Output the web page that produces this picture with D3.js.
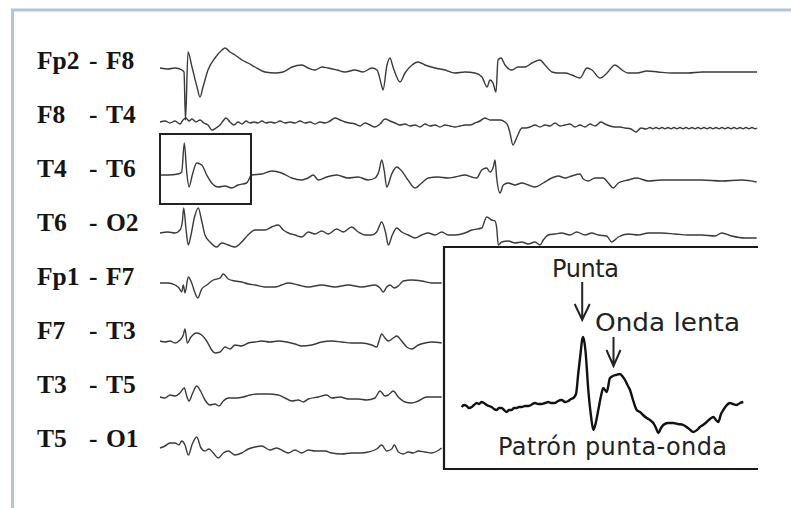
<!DOCTYPE html>
<html>
<head>
<meta charset="utf-8">
<script src="https://cdn.jsdelivr.net/npm/d3@7"></script>
<style>
  html, body { margin: 0; padding: 0; background: #fff; }
  svg { display: block; }
</style>
</head>
<body>
<svg id="chart" width="791" height="508"></svg>
<script>
// Bipolar montage: first and second electrode of each derivation
const leadA = ["Fp2", "F8", "T4", "T6", "Fp1", "F7", "T3", "T5"];
const leadB = ["F8", "T4", "T6", "O2", "F7", "T3", "T5", "O1"];

// Each trace: [sample, amplitude] pairs (samples ~60 Hz, amplitude in display units)
const fp2F8 = [[0,2],[8,1],[15,2],[22,0],[24,-2],[25.5,-50],[28,18],[32,3],[37,-17],[40,-27],[43,-17],[48,0],[55,12],[62,20],[65,22],[70,18],[75,15],[82,10],[88,7],[95,3],[105,-2],[115,-3],[123,-2],[132,3],[142,5],[148,2],[155,0],[162,3],[168,2],[177,0],[185,-2],[195,0],[203,-2],[212,2],[217,0],[222,-17],[223,-20],[227,5],[230,12],[233,3],[240,-12],[245,-3],[252,5],[258,8],[265,5],[275,2],[285,0],[295,-3],[305,-2],[315,-3],[322,-7],[327,-17],[330,-10],[333,-13],[336,-22],[338,10],[341,12],[345,5],[352,0],[358,3],[365,3],[372,7],[380,10],[385,5],[392,-2],[398,-3],[405,-3],[412,-5],[420,-8],[427,2],[432,0],[440,-8],[447,-3],[455,5],[462,0],[468,-3],[477,-3],[487,-1],[498,-2],[512,-3],[528,-3],[542,-2],[562,-2],[582,-2],[597,-2]];

const f8T4 = [[0,2],[5,3],[10,1],[15,3],[20,0],[23,4],[26,6],[29,3],[32,5],[36,2],[40,4],[44,1],[48,-1],[52,-6],[56,-4],[60,-1],[63,3],[66,6],[70,2],[74,-1],[78,2],[82,0],[86,3],[90,1],[94,2],[98,1],[102,3],[106,1],[110,2],[115,1],[120,3],[125,1],[130,2],[135,1],[140,3],[145,1],[150,2],[155,0],[160,2],[165,1],[170,3],[175,6],[180,4],[185,2],[190,1],[195,0],[200,-2],[205,1],[210,-1],[215,-3],[220,0],[225,5],[230,3],[235,1],[240,-1],[245,0],[250,-2],[255,-1],[260,-3],[265,0],[270,-2],[275,-1],[280,-3],[285,-1],[290,-2],[295,-3],[300,-2],[305,-1],[310,-1],[315,1],[320,3],[325,6],[330,4],[335,4],[340,4],[345,2],[348,-2],[350,-9],[353,-21],[357,-13],[362,-4],[366,-4],[370,-3],[375,-1],[380,-3],[385,-1],[390,-2],[395,1],[400,-2],[405,-1],[410,0],[415,-3],[420,-1],[425,-3],[430,0],[435,-2],[441,2],[445,0],[450,-2],[455,-3],[460,-3],[465,-4],[471,-5],[476,-8],[481,-4],[486,-5],[490,-3.5],[493,-4.8],[496,-3.5],[499,-4.8],[502,-3.5],[505,-4.8],[508,-3.5],[511,-4.8],[514,-3.5],[517,-4.8],[520,-3.5],[523,-4.8],[526,-3.5],[529,-4.8],[532,-3.5],[535,-4.8],[538,-3.5],[541,-4.8],[544,-3.5],[547,-4.8],[550,-3.5],[553,-4.8],[556,-3.5],[559,-4.8],[562,-3.5],[565,-4.8],[568,-3.5],[571,-4.8],[574,-3.5],[577,-4.8],[580,-3.5],[583,-4.8],[586,-3.5],[589,-4.8],[592,-3.5],[595,-4.8],[597,-4]];

const t4T6 = [[0,3],[8,3],[18,4],[21.7,6],[24.3,35],[26.7,6],[29,-9],[32.3,3],[36.7,15],[41.7,13],[46.7,3],[51.7,-5],[58.3,-9],[65,-8],[71.7,-10],[78,-7],[86.7,-5],[91.7,3],[101.7,4],[111.7,7],[121.7,5],[131.7,0],[141.7,-2],[148,0],[153.3,3],[158.3,-2],[166.7,1],[176.7,3],[188,0],[198,1],[208.3,-2],[215,0],[219,7],[221.7,18],[224.3,7],[226.7,-9],[231.7,4],[236.7,11],[241.7,7],[248,-2],[255,-10],[261.7,-5],[268.3,0],[278,1],[288,0],[295,1],[305,3],[311.7,1],[316.7,0],[321.7,8],[326.7,10],[330,6],[333.3,11],[335,18],[336.7,0],[340,-15],[343.3,-7],[348.3,-5],[355,-7],[361.7,-5],[368.3,-7],[375,-9],[383.3,-5],[391.7,0],[398.3,2],[405,0],[411.7,2],[420,4],[423.3,-1],[428.3,-3],[435,0],[443.3,0],[448.3,-5],[453.3,-10],[458.3,-5],[468.3,-2],[476.7,0],[488.3,-3],[501.7,-2],[521.7,-2],[541.7,-2],[561.7,-3],[581.7,-2],[596.7,-4]];

const t6O2 = [[0,-1],[8,0],[15,-1],[20,2],[22.3,10],[23.7,24],[26,3],[28.3,-13],[31,-3],[34.3,14],[38.3,24],[41.7,11],[45,-3],[50,-10],[56.7,-15],[61.7,-11],[68.3,-13],[75,-15],[81.7,-10],[88,-3],[95,2],[105,2],[111.7,5],[118.3,7],[123.3,2],[128.3,-1],[135,-3],[141.7,-5],[148.3,0],[155,-2],[161.7,1],[168.3,-2],[176.7,3],[183.3,0],[191.7,5],[198.3,0],[205,-3],[211.7,-3],[216.7,0],[221.7,10],[225.7,-1],[228.3,-13],[232.3,-3],[236.7,4],[241.7,0],[248.3,-3],[255,-6],[261.7,-3],[268.3,-1],[275,-3],[281.7,0],[288.3,-3],[295,-3],[305,-1],[311.7,2],[321.7,4],[326.7,15],[331.7,12],[335,11],[336.7,4],[338.3,-13],[341.7,-10],[348.3,-9],[355,-11],[361.7,-10],[368.3,-12],[375,-10],[380,-13],[383.3,-8],[388.3,-3],[395,-2],[401.7,-1],[410,-3],[416.7,0],[425,-3],[431.7,-1],[438.3,-3],[446.7,-4],[451.7,-10],[458.3,-5],[468.3,-2],[478.3,-3],[488.3,-1],[501.7,-1],[515,-2],[528.3,-3],[541.7,-3],[555,-4],[561.7,-1],[571.7,-4],[585,-6],[596.7,-6]];

const fp1F7 = [[0,3],[8,3],[15,1],[19,-2],[21.7,-6],[23.3,1],[25,-7],[28.3,9],[31.7,3],[35,-7],[37.7,-12],[41.7,-3],[46.7,1],[53.3,6],[60,8],[63.3,12],[68.3,7],[75,5],[81.7,4],[88.3,2],[95,1],[105,-1],[115,-1],[121.7,1],[128.3,3],[138.3,1],[148.3,-1],[161.7,1],[175,-1],[188.3,1],[201.7,-1],[215,1],[220,-2],[223.3,-6],[226.7,-1],[230,1],[234.3,-2],[238.3,0],[243.3,5],[251.7,6],[261.7,5],[271.7,3],[281.7,3]];

const f7T3 = [[0,-1],[5,-2],[10,-1],[15,-3],[20,0],[23.3,5],[25,11],[27.3,-3],[31,3],[36.7,7],[41.7,5],[46.7,-1],[51.7,-10],[55,-13],[60,-12],[65,-7],[70,-9],[75,-5],[81.7,-6],[88.3,-3],[95,-2],[101.7,-1],[110,-2],[118.3,-1],[126.7,-2],[135,-4],[141.7,-6],[151.7,-5],[161.7,-2],[171.7,-1],[181.7,-2],[191.7,-3],[201.7,-3],[211.7,-5],[216.7,-7],[219,-1],[221.7,6],[225,2],[228.3,-1],[233.3,2],[236.7,4],[241.7,-1],[246.7,-7],[251.7,-9],[258.3,-5],[265,-3],[271.7,-2],[281.7,-3]];

const t3T5 = [[0,-3],[5,-4],[10,-1],[15,-2],[20,1],[24.3,6],[26.7,-2],[29,-7],[32.3,0],[36.7,8],[41,2],[45,-6],[50,-11],[55,-10],[59,-12],[63.3,-7],[68.3,-4],[76.7,-4],[83.3,-3],[90,-1],[98.3,0],[108.3,0],[118.3,-1],[125,-4],[131.7,-7],[138.3,-6],[143.3,-8],[148.3,-5],[158.3,-3],[166.7,-1],[171.7,-4],[180,-3],[188.3,-5],[198.3,-5],[206.7,-6],[215,-4],[220,3],[225,-2],[228.3,-1],[233.3,3],[238.3,-3],[245,-8],[251.7,-9],[258.3,-7],[266.7,-3],[273.3,-3],[281.7,-3]];

const t5O1 = [[0,0],[5,2],[10,5],[15,5],[19,3],[21.7,7],[25,3],[28.3,-7],[32.3,4],[36.7,11],[41,0],[45,-3],[49,-1],[53.3,-5],[58.3,-10],[63.3,-5],[68.3,-3],[75,-7],[81.7,-5],[88.3,-1],[95,1],[101.7,2],[110,-2],[116.7,0],[123.3,-3],[128.3,-5],[135,-2],[141.7,-5],[148.3,-2],[155,-3],[165,-3],[171.7,-5],[181.7,-6],[191.7,-5],[200,-5],[208.3,-4],[216.7,-1],[221.7,3],[226.7,-3],[231.7,-1],[234.3,3],[238.3,-4],[243.3,-6],[248.3,-4],[253.3,-5],[258.3,-3],[265,-4],[271.7,-5],[281.7,0]];

const traces = [fp2F8, f8T4, t4T6, t6O2, fp1F7, f7T3, t3T5, t5O1];

// Magnified spike-and-wave complex shown in the inset
const insetTrace = [[1.7,-1],[4,1],[6.7,0],[9,-2],[11.7,-1],[14,1],[16.7,3],[19,2],[21.7,4],[24,3],[26.7,1],[29,0],[31.7,-1],[34,-3],[36.7,-4],[39,-2],[41.7,-2],[44,-4],[46.7,-6],[49,-4],[51.7,-4],[54,-2],[56.7,-2],[59,-1],[61.7,-1],[65,0],[68.3,0],[71,1],[75,3],[78,2],[81.7,2],[85,3],[88.3,4],[91,3],[95,3],[98,5],[101.7,6],[105,4],[108.3,5],[111,7],[113.3,8],[116,12],[118.3,33],[120.5,52],[122.7,69],[124,66],[125.5,55],[128.3,16],[131,-10],[133.3,-24],[135.5,-18],[138.3,-4],[141,10],[143.3,18],[146.7,14],[150,28],[153,30],[156,31],[160,32],[163,29],[165,26],[168,20],[170,16],[173,6],[176.7,-4],[180,-6],[183,-9],[186.7,-12],[190,-14],[193.3,-17],[196,-22],[198.3,-27],[201,-22],[203.3,-19],[208,-17],[213.3,-17],[218,-18],[223.3,-19],[228,-22],[233.3,-26],[237,-24],[240,-21],[243,-19],[246.7,-16],[250,-13],[253.3,-11],[256,-14],[258.3,-16],[261,-8],[263.3,-4],[266,0],[270,3],[273,2],[276.7,1],[280,3],[283.3,4]];

// Inset annotations
const spikeLabel = "Punta";
const slowWaveLabel = "Onda lenta";
const patternLabel = "Patrón punta-onda";
const spikeSample = 122.7;
const slowWaveSample = 153.5;

const svg = d3.select("#chart");
const channels = leadA.map((a, i) => a + " - " + leadB[i]);

// Scales
const x = d3.scaleLinear().domain([0, 597]).range([160, 757]);
const row = d3.scalePoint().domain(channels).range([70, 448]);
const amp = d3.scaleLinear().domain([-60, 60]).range([60, -60]);

// Outer frame (top and left edges)
svg.append("line").attr("x1", 11).attr("x2", 791).attr("y1", 10).attr("y2", 10)
  .attr("stroke", "#b4c5da").attr("stroke-width", 3);
svg.append("line").attr("x1", 12.5).attr("x2", 12.5).attr("y1", 9).attr("y2", 508)
  .attr("stroke", "#b4c5da").attr("stroke-width", 3);

// Channel labels, columns aligned on the hyphen
const labels = svg.append("g")
  .attr("font-family", "'Liberation Serif', 'Times New Roman', serif")
  .attr("font-weight", "bold").attr("font-size", 25.5).attr("fill", "#151515");
channels.forEach((c, i) => {
  const t = labels.append("text").attr("y", row(c) - 1.5);
  t.append("tspan").attr("x", 37).text(leadA[i]);
  t.append("tspan").attr("x", 89).text("-");
  t.append("tspan").attr("x", 106).text(leadB[i]);
});

// EEG traces
const line = d3.line().curve(d3.curveMonotoneX);
channels.forEach((c, i) => {
  const y0 = row(c);
  svg.append("path")
    .attr("d", line(traces[i].map(d => [x(d[0]), y0 + amp(d[1])])))
    .attr("fill", "none").attr("stroke", "#3a3a3a").attr("stroke-width", 1.4)
    .attr("stroke-linejoin", "round");
});

// Highlight box around the first spike-wave complex on T4 - T6
const boxRow = row(channels[2]);
svg.append("rect")
  .attr("x", x(0)).attr("y", boxRow + amp(44))
  .attr("width", x(91) - x(0)).attr("height", amp(-26) - amp(44))
  .attr("fill", "none").attr("stroke", "#222").attr("stroke-width", 2);

// Inset panel
const xIn = d3.scaleLinear().domain([0, 300]).range([460, 760]);
const inBase = 406;
svg.append("rect").attr("x", 444).attr("y", 247).attr("width", 314).attr("height", 222)
  .attr("fill", "#fff");
svg.append("path")
  .attr("d", "M758,247 H444 V469 H758")
  .attr("fill", "none").attr("stroke", "#1a1a1a").attr("stroke-width", 2.2);

svg.append("path")
  .attr("d", line(insetTrace.map(d => [xIn(d[0]), inBase + amp(d[1])])))
  .attr("fill", "none").attr("stroke", "#111").attr("stroke-width", 2.4)
  .attr("stroke-linejoin", "round");

const inText = svg.append("g")
  .attr("font-family", "'DejaVu Sans', sans-serif").attr("font-size", 24).attr("fill", "#222");
inText.append("text").attr("x", 552).attr("y", 276.5)
  .attr("textLength", 67).attr("lengthAdjust", "spacing").text(spikeLabel);
inText.append("text").attr("x", 595).attr("y", 331)
  .attr("textLength", 145).attr("lengthAdjust", "spacingAndGlyphs").text(slowWaveLabel);
inText.append("text").attr("x", 498).attr("y", 455)
  .attr("textLength", 229).attr("lengthAdjust", "spacing").text(patternLabel);

// Down arrows pointing at the spike and the slow wave
function arrow(cx, yTop, yTip, half) {
  svg.append("path")
    .attr("d", `M${cx},${yTop} V${yTip} M${cx - half},${yTip - 16} L${cx},${yTip} L${cx + half},${yTip - 16}`)
    .attr("fill", "none").attr("stroke", "#222").attr("stroke-width", 2)
    .attr("stroke-linejoin", "miter");
}
arrow(xIn(spikeSample) - 0.5, 282, 320, 7.5);
arrow(xIn(slowWaveSample), 337, 366, 7);
</script>
</body>
</html>
